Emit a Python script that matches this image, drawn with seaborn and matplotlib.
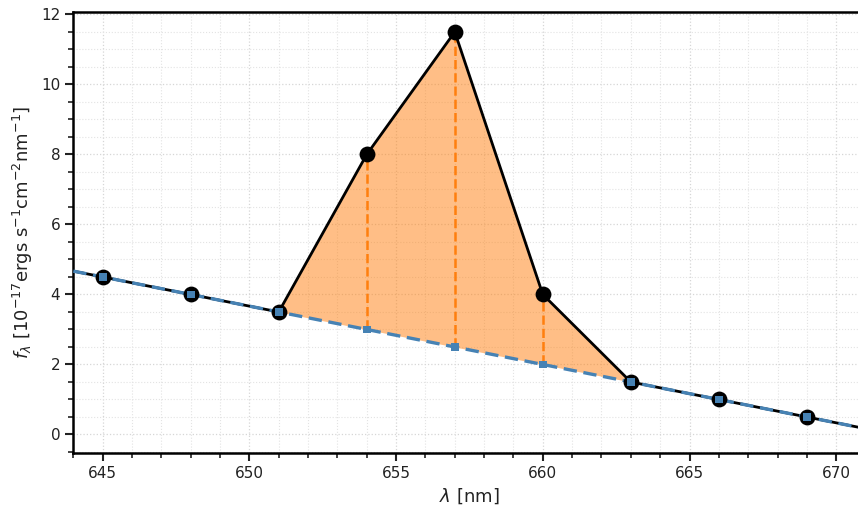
import numpy as np
import pandas as pd
import matplotlib
matplotlib.use("Agg")
import matplotlib.pyplot as plt
import seaborn as sns
from matplotlib.ticker import MultipleLocator

sns.set_style("ticks")
plt.rcParams['font.family'] = ['DejaVu Sans']

# data
wavelength = [645, 648, 651, 654, 657, 660, 663, 666, 669]
flux = [4.5, 4.0, 3.5, 8.0, 11.5, 4.0, 1.5, 1.0, 0.5]
continuum = [4.5, 4.0, 3.5, 3.0, 2.5, 2.0, 1.5, 1.0, 0.5]
# continuum extended to the axes edges
cont_edge_x = [644, 671]
cont_edge_y = [4.6667, 0.1667]
# emission line region
line_x = [651, 654, 657, 660, 663]
line_flux = [3.5, 8.0, 11.5, 4.0, 1.5]
line_cont = [3.5, 3.0, 2.5, 2.0, 1.5]
inner_x = [654, 657, 660]
inner_flux = [8.0, 11.5, 4.0]
inner_cont = [3.0, 2.5, 2.0]

df = pd.DataFrame({"wl": wavelength, "flux": flux, "cont": continuum})

fig = plt.figure(figsize=(8.58, 5.11), dpi=100)
ax = fig.add_axes([0.0855, 0.1141, 0.9233, 0.8618])

ax.set_xlim(644, 671)
ax.set_ylim(-0.52, 12.06)

ax.xaxis.set_major_locator(MultipleLocator(5))
ax.xaxis.set_minor_locator(MultipleLocator(1))
ax.yaxis.set_major_locator(MultipleLocator(2))
ax.yaxis.set_minor_locator(MultipleLocator(0.5))
ax.grid(True, which='major', linestyle=':', color='#d6d6d6', linewidth=0.9)
ax.grid(True, which='minor', linestyle=':', color='#e3e3e3', linewidth=0.8)
ax.set_axisbelow(True)

# fill of the emission line
ax.fill_between(line_x, line_cont, line_flux, color='tab:orange', alpha=0.5, linewidth=0, zorder=1)
# vertical dashed lines
ax.vlines(inner_x, inner_cont, inner_flux, colors='tab:orange', linestyles='--', linewidth=1.8, zorder=2)

# black data line, continuing to edges along the continuum
bx = [cont_edge_x[0]] + wavelength + [cont_edge_x[1]]
by = [cont_edge_y[0]] + flux + [cont_edge_y[1]]
ax.plot(bx, by, color='black', linewidth=2.0, zorder=3)

# blue dashed continuum
cx = [cont_edge_x[0]] + wavelength + [cont_edge_x[1]]
cy = [cont_edge_y[0]] + continuum + [cont_edge_y[1]]
ax.plot(cx, cy, color='steelblue', linewidth=2.4, linestyle=(0, (4, 2)), zorder=4)

# markers
sns.scatterplot(data=df, x="wl", y="flux", ax=ax, color='black', s=130, marker='o',
                edgecolor='black', linewidth=0, zorder=5, legend=False)
sns.scatterplot(data=df, x="wl", y="cont", ax=ax, color='steelblue', s=30, marker='s',
                edgecolor='none', linewidth=0, zorder=6, legend=False)

for sp in ['left', 'bottom', 'top', 'right']:
    ax.spines[sp].set_linewidth(1.8)
    ax.spines[sp].set_color('black')

ax.tick_params(which='major', direction='out', length=6, width=1.5, labelsize=11, colors='#222222')
ax.tick_params(which='minor', direction='out', length=3.5, width=1.2, colors='#222222')
ax.tick_params(axis='x', which='both', top=False)
ax.tick_params(axis='y', which='both', right=False)

ax.set_xlabel(r'$\lambda$ [nm]', fontsize=13, color='#222222')
ax.set_ylabel(r'$f_\lambda$ [$10^{-17}$ergs s$^{-1}$cm$^{-2}$nm$^{-1}$]', fontsize=13, color='#222222')

fig.savefig("out.png", dpi=100)
